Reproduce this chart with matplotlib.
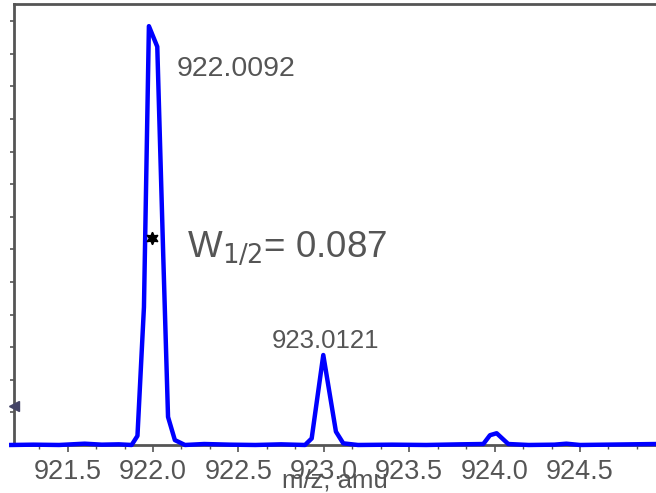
import matplotlib.pyplot as plt
import numpy as np
from matplotlib.ticker import MultipleLocator, AutoMinorLocator

plt.rcParams['font.family'] = ['Liberation Sans', 'DejaVu Sans']

# profile spectrum, intensity in 1e3 counts
mz = [921.17, 921.30, 921.45, 921.60, 921.70, 921.80, 921.875, 921.909, 921.947,
      921.976, 922.025, 922.060, 922.088, 922.128, 922.187, 922.30, 922.45,
      922.60, 922.75, 922.89, 922.929, 922.997, 923.071, 923.114, 923.20,
      923.40, 923.60, 923.80, 923.934, 923.973, 924.012, 924.08, 924.20,
      924.35, 924.42, 924.50, 924.65, 924.80, 924.95]
intensity = [0.0, 0.01, 0.0, 0.04, 0.01, 0.02, 0.0, 0.28, 4.23,
             12.85, 12.22, 5.8, 0.86, 0.15, 0.0, 0.03, 0.01,
             0.0, 0.02, 0.0, 0.2, 2.76, 0.41, 0.05, 0.0,
             0.01, 0.0, 0.02, 0.03, 0.3, 0.36, 0.03, 0.0,
             0.01, 0.04, 0.0, 0.01, 0.02, 0.03]

apex_main = 922.0092
apex_iso = 923.0121
fwhm_point = (921.994, 6.35)
fwhm = 0.087

fig = plt.figure(figsize=(6.56, 4.93), dpi=100)
ax = fig.add_axes([0.0213, 0.0974, 0.9787, 0.8945])

ax.plot(mz, intensity, color='#0000ff', lw=3.2, clip_on=False, zorder=3)
ax.plot(*fwhm_point, marker=(6, 1, 0), color='black', ms=9, zorder=4)

grey = '#555555'
ax.text(922.14, 11.55, f'{apex_main:.4f}', fontsize=20.5, color=grey,
        ha='left', va='center')
ax.text(923.01, 3.2, f'{apex_iso:.4f}', fontsize=18.5, color=grey,
        ha='center', va='center')
ax.text(922.2, 6.05, r'W$_{1/2}$= ' + f'{fwhm:.3f}', fontsize=26.5, color=grey,
        ha='left', va='center')

ax.set_xlim(921.186, 924.945)
ax.set_ylim(0, 13.53)
ax.xaxis.set_major_locator(MultipleLocator(0.5))
ax.xaxis.set_minor_locator(AutoMinorLocator(3))
ax.yaxis.set_major_locator(MultipleLocator(1))
ax.set_yticklabels([])
ax.set_xticks([921.5, 922.0, 922.5, 923.0, 923.5, 924.0, 924.5])
ax.set_xticklabels(['921.5', '922.0', '922.5', '923.0', '923.5', '924.0', '924.5'])

ax.tick_params(axis='x', which='major', length=5, width=1.2, color=grey,
               labelsize=19.5, labelcolor=grey, pad=5)
ax.tick_params(axis='x', which='minor', length=3, width=1, color=grey)
ax.tick_params(axis='y', which='major', length=3, width=1.2, color=grey)

ax.set_xlabel('m/z, amu', fontsize=18.5, color=grey, labelpad=-12)

for side in ['left', 'bottom', 'top']:
    ax.spines[side].set_color(grey)
    ax.spines[side].set_linewidth(2)
ax.spines['right'].set_visible(False)

# small pointer on the intensity axis
ax.plot(921.184, 1.2, marker='<', color='#444466', ms=7, clip_on=False, zorder=5)

fig.savefig('out.png', dpi=100)
